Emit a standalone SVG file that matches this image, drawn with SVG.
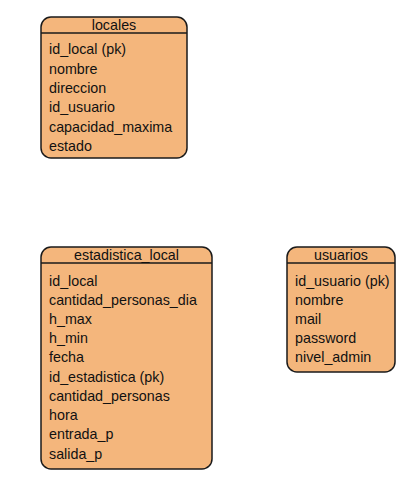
<svg xmlns="http://www.w3.org/2000/svg" width="417" height="487" viewBox="0 0 417 487">
<style>
.box{fill:#F4B67C;stroke:#1a1a1a;stroke-width:1.5}
.hd{stroke:#1a1a1a;stroke-width:1.5}
.t{font-family:"Liberation Sans",Arial,sans-serif;font-size:14.3px;fill:#111}
.h{font-family:"Liberation Sans",Arial,sans-serif;font-size:14.3px;fill:#111;text-anchor:middle}
</style>
<rect width="417" height="487" fill="#fff"/>
<g id="locales">
<rect class="box" x="41" y="17" width="146" height="141" rx="10"/>
<line class="hd" x1="41" y1="33" x2="187" y2="33"/>
<text class="h" x="114" y="30">locales</text>
<text class="t" x="49" y="54">id_local (pk)</text>
<text class="t" x="49" y="74">nombre</text>
<text class="t" x="49" y="93">direccion</text>
<text class="t" x="49" y="112">id_usuario</text>
<text class="t" x="49" y="132">capacidad_maxima</text>
<text class="t" x="49" y="151">estado</text>
</g>
<g id="estadistica_local">
<rect class="box" x="41" y="247" width="171" height="222" rx="10"/>
<line class="hd" x1="41" y1="263" x2="212" y2="263"/>
<text class="h" x="126.5" y="260">estadistica_local</text>
<text class="t" x="49" y="286">id_local</text>
<text class="t" x="49" y="305">cantidad_personas_dia</text>
<text class="t" x="49" y="324">h_max</text>
<text class="t" x="49" y="343">h_min</text>
<text class="t" x="49" y="362">fecha</text>
<text class="t" x="49" y="382">id_estadistica (pk)</text>
<text class="t" x="49" y="401">cantidad_personas</text>
<text class="t" x="49" y="420">hora</text>
<text class="t" x="49" y="439">entrada_p</text>
<text class="t" x="49" y="459">salida_p</text>
</g>
<g id="usuarios">
<rect class="box" x="287" y="247" width="108" height="125" rx="10"/>
<line class="hd" x1="287" y1="263" x2="395" y2="263"/>
<text class="h" x="341" y="260">usuarios</text>
<text class="t" x="295" y="286">id_usuario (pk)</text>
<text class="t" x="295" y="305">nombre</text>
<text class="t" x="295" y="324">mail</text>
<text class="t" x="295" y="343">password</text>
<text class="t" x="295" y="362">nivel_admin</text>
</g>
<g id="connectors"></g>
</svg>
